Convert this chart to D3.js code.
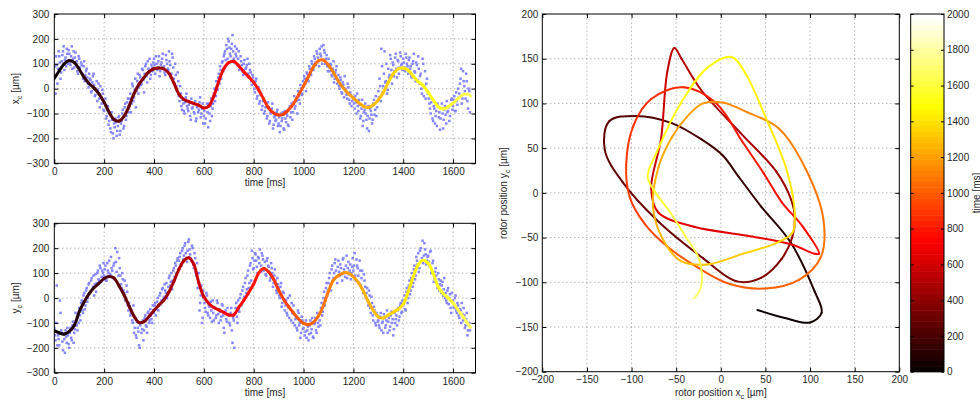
<!DOCTYPE html>
<html>
<head>
<meta charset="utf-8">
<script src="https://cdn.jsdelivr.net/npm/d3@7"></script>
<style>
body { margin: 0; background: #fff; }
svg text { font-family: "Liberation Sans", Arial, Helvetica, sans-serif; font-size: 10px; fill: #262626; }
</style>
</head>
<body>
<svg width="980" height="402"></svg>
<script>
const svg = d3.select('svg');

// sample spacing of the two series (ms)
const smoothStep = 20;
const scatterStep = 5;
const smoothTime = d3.range(0, 1661, smoothStep).concat([1670]);

// filtered rotor position
const xSmooth = [41, 72, 100, 113, 105, 78, 45, 20, 2, -22,
    -55, -95, -125, -130, -110, -70, -20, 18, 45, 68,
    80, 83, 79, 62, 22, -22, -44, -52, -60, -67,
    -78, -70, -30, 30, 80, 105, 110, 92, 68, 48,
    25, -5, -42, -78, -98, -106, -102, -85, -60, -25,
    10, 50, 88, 112, 115, 95, 65, 30, 2, -20,
    -38, -55, -70, -76, -66, -45, -15, 25, 60, 80,
    83, 74, 50, 28, 12, -15, -45, -72, -82, -73,
    -58, -40, -24, -22, -30];
const ySmooth = [-131, -140, -145, -134, -110, -55, -15, 18, 42, 60,
    78, 86, 80, 48, 12, -32, -73, -99, -95, -74,
    -50, -28, -8, 24, 67, 115, 150, 162, 135, 60,
    5, -22, -38, -48, -58, -68, -68, -38, -10, 22,
    56, 100, 118, 105, 75, 32, -5, -35, -60, -84,
    -102, -107, -97, -72, -30, 27, 72, 90, 101, 100,
    85, 62, 28, -15, -50, -76, -80, -68, -57, -45,
    -25, 25, 85, 133, 152, 140, 100, 45, 18, 0,
    -20, -48, -75, -105, -118];

// raw measurements: set A at t = i*scatterStep, set B half a step later
const xScatterA = [55, -20, 95, 80, 130, 40, 110, 150, 75, 125, 160, 100, 140, 95, 170, 120, 85, 145, 110, 60,
    120, 70, 95, 40, 110, 55, 80, 20, 60, 35, -10, 50, 15, -25, 30, -5, -40, 10, -60, -20,
    -90, -40, -110, -70, -130, -160, -95, -180, -140, -120, -190, -150, -110, -170, -130, -85, -150, -60, -110, -40,
    -80, -20, -60, 10, -35, 40, -10, 60, 5, 45, 20, 75, -15, 90, 50, 110, 65, 40, 95, 70,
    120, 60, 100, 85, 130, 70, 105, 140, 90, 55, 115, 80, 150, 95, 60, 125, 40, 100, 10, 65,
    -30, 10, -70, -45, -90, -55, -20, -80, -65, -110, -40, -75, -95, -50, -120, -70, -85, -35, -100, -60,
    -110, -140, -75, -95, -60, -130, -40, -80, -20, -50, 30, -5, 60, 90, 40, 110, 130, 150, 175, 120,
    190, 140, 160, 215, 120, 170, 130, 95, 150, 80, 110, 70, 100, 60, 85, 120, 45, 75, 30, 55,
    20, -15, 40, -30, 5, -50, -20, -70, -40, -90, -60, -110, -75, -130, -95, -60, -145, -110, -125, -85,
    -140, -175, -100, -120, -160, -90, -135, -110, -150, -70, -95, -125, -55, -80, -40, -100, -30, -60, 0, -20,
    10, 40, -10, 60, 30, 80, 55, 100, 75, 120, 95, 140, 110, 160, 130, 100, 175, 145, 120, 90,
    120, 70, 95, 50, 110, 40, 75, 20, 55, 0, 35, -20, 15, 50, -10, -40, 5, -60, -25, -50,
    -40, -80, -55, -20, -90, -65, -110, -45, -130, -85, -100, -160, -70, -120, -90, -140, -60, -105, -30, -75,
    -10, 40, -50, 90, 10, 150, 30, -20, 80, 55, 120, 20, 95, 70, 140, 45, 110, 85, 130, 100,
    120, 85, 140, 100, 60, 125, 90, 45, 110, 70, 30, 95, 130, 20, 60, -20, 100, 10, -40, 40,
    -20, -60, -100, -40, -130, -80, -110, -150, -70, -95, -120, -60, -160, -85, -105, -50, -90, -130, -65, -40,
    -70, -30, -90, -50, 0, -20, 40, -60, 70, 10, -40, 30, -80, -10];
const xScatterB = [90, 130, 20, 150, 105, 65, 135, 170, 115, 90, 140, 155, 105, 130, 80, 150, 125, 100, 70, 130,
    85, 105, 60, 90, 30, 70, 45, 5, 40, -15, 25, 60, -30, 0, -50, 20, -75, -35, -5, -85,
    -60, -120, -85, -145, -100, -175, -125, -200, -155, -135, -170, -115, -185, -140, -100, -160, -75, -125, -55, -95,
    -40, -95, 20, -50, -5, -75, 30, -20, 55, 15, 80, 35, 60, 100, 25, 80, 120, 55, 85, 105,
    95, 130, 75, 110, 50, 95, 120, 85, 65, 135, 100, 75, 110, 45, 140, 85, 20, 55, -10, 30,
    -50, -20, -85, -60, -100, -35, -70, -90, -55, -125, -80, -60, -100, -130, -75, -95, -55, -115, -80, -140,
    -90, -120, -60, -155, -100, -70, -110, -60, 0, -30, 10, 45, 20, 75, 105, 70, 140, 115, 160, 200,
    165, 130, 180, 150, 105, 140, 160, 120, 75, 130, 95, 55, 115, 80, 95, 60, 100, 65, 15, 45,
    0, 30, -40, -5, -60, -25, -85, -50, -100, -75, -120, -55, -140, -100, -80, -160, -115, -130, -95, -150,
    -115, -150, -130, -95, -165, -120, -100, -145, -80, -115, -60, -95, -30, -70, -50, -10, -45, 15, -25, 30,
    50, 20, 65, 35, 90, 60, 110, 85, 130, 105, 150, 125, 90, 140, 170, 115, 155, 100, 135, 70,
    85, 100, 55, 80, 25, 65, 90, 35, 10, 45, -15, 25, -35, 0, -25, 20, -45, -15, -70, -35,
    -60, -30, -100, -70, -45, -120, -80, -150, -95, -60, -125, -110, -170, -80, -105, -125, -45, -85, -110, -50,
    -35, 10, 160, -15, 60, 25, 100, -5, 45, 135, 75, 105, 50, 125, 80, 115, 60, 145, 95, 75,
    105, 70, 125, 90, 115, 80, 50, 100, 140, 65, 105, 35, 80, 50, 0, 120, -30, 70, 20, -10,
    -40, -80, -55, -120, -70, -140, -90, -60, -115, -165, -80, -100, -125, -70, -140, -95, -75, -110, -45, -85,
    -45, -90, -15, -65, -35, 20, 80, -40, 30, -10, 60, -50, 0, -95];
const yScatterA = [-120, -170, 50, -150, -190, -60, -140, -210, -165, -130, -180, -150, -200, -120, -170, -95, -140, -60, -110, -80,
    -40, -90, -10, -60, 20, -30, 40, 0, 60, 25, 80, 45, 10, 95, 60, 110, 70, 120, 85, 100,
    90, 130, 70, 110, 150, 95, 120, 80, 140, 200, 105, 60, 160, 90, 40, 75, 20, -10, 50, -30,
    -20, -70, -50, -100, -140, -80, -160, -120, -190, -110, -140, -90, -130, -70, -115, -60, -100, -45, -85, -30,
    -60, -20, -45, 0, -30, 20, -10, 40, 5, 30, 60, 15, 80, 50, 100, 70, 120, 140, 100, 160,
    150, 180, 130, 200, 170, 220, 160, 190, 235, 175, 150, 200, 120, 160, 90, 40, 100, -20, 50, -80,
    0, -40, 20, -60, -30, -80, -50, -10, -90, -40, -70, -20, -100, -55, -75, -30, -120, -60, -85, -40,
    -70, -110, -40, -180, -90, -60, -20, -100, -50, 0, -30, 30, -10, 60, 20, 90, 40, 130, 70, 160,
    120, 180, 150, 100, 160, 195, 130, 170, 110, 145, 90, 160, 125, 70, 140, 100, 60, 115, 30, 80,
    40, 0, 60, -20, 20, -50, -10, -70, -40, 10, -90, -60, -30, -110, -80, -130, -60, -100, -140, -90,
    -120, -150, -90, -130, -170, -110, -140, -80, -160, -100, -130, -60, -115, -90, -40, -70, 0, -30, 40, 10,
    60, 100, 30, 130, 80, 140, 110, 60, 150, 90, 120, 70, 160, 100, 130, 80, 145, 110, 75, 125,
    110, 180, 70, 130, 90, 150, 50, 110, 20, 70, 0, 40, -30, 10, -60, -20, -90, -50, -110, -70,
    -90, -120, -60, -100, -140, -80, -110, -50, -95, -130, -70, -100, -150, -60, -85, -110, -40, -75, -20, -55,
    -30, 10, -50, 40, 0, 70, 30, 100, 60, 130, 90, 150, 180, 120, 200, 160, 140, 220, 175, 150,
    170, 130, 190, 110, 150, 80, 120, 60, 100, 30, 70, 50, 10, 80, 20, -20, 40, 0, -40, 20,
    -10, -40, 10, -60, -30, -80, -50, -20, -90, -70, -110, -60, -130, -100];
const yScatterB = [-150, -100, -190, -165, -10, -130, -175, -145, -220, -155, -120, -185, -140, -160, -110, -180, -125, -90, -130, -100,
    -70, -20, -50, 10, -45, 30, -15, 55, 20, 70, 35, 90, 55, 25, 100, 75, 130, 65, 110, 140,
    115, 70, 140, 100, 85, 165, 110, 130, 75, 145, 185, 90, 120, 55, 100, 30, 70, 0, 25, -50,
    -40, -60, -90, -30, -120, -150, -95, -135, -200, -100, -125, -170, -80, -110, -140, -55, -90, -70, -100, -50,
    -30, -70, -15, -50, 10, -25, 35, -5, 55, 20, 0, 45, 90, 65, 35, 110, 85, 130, 150, 115,
    165, 135, 190, 155, 210, 180, 145, 225, 195, 160, 210, 135, 180, 105, 140, 70, -50, 10, -100, 30,
    -20, -55, 10, -70, -35, -15, -95, -60, -40, -80, -10, -65, -45, -90, -25, -70, -140, -50, -95, -65,
    -100, -60, -130, -80, -200, -40, -75, -10, -55, 15, -25, 45, 5, 80, 35, 110, 60, 140, 190, 115,
    150, 175, 125, 165, 140, 105, 180, 155, 120, 95, 150, 130, 105, 80, 120, 45, 90, 70, 20, 55,
    10, 45, -35, 25, -5, -30, -60, 0, -80, -45, -20, -100, -65, -85, -120, -50, -110, -160, -75, -125,
    -100, -135, -160, -115, -145, -90, -125, -155, -105, -80, -140, -100, -65, -110, -20, -55, 25, -10, 60, 30,
    80, 50, 115, 70, 100, 155, 85, 125, 105, 135, 95, 155, 115, 85, 170, 120, 95, 135, 100, 160,
    130, 90, 155, 120, 60, 110, 80, 35, 95, 45, 20, -10, 30, -40, 5, -70, -35, -100, -60, -95,
    -110, -75, -130, -95, -65, -120, -90, -140, -80, -115, -55, -85, -125, -100, -70, -50, -90, -30, -60, -10,
    -15, -45, 25, -20, 50, 15, 80, 45, 115, 75, 165, 135, 105, 190, 145, 230, 170, 195, 135, 165,
    145, 185, 100, 140, 65, 105, 90, 40, 75, 55, 20, 65, 35, 0, -10, 30, -25, 15, -60, -15,
    -35, 0, -50, -20, -70, -45, -100, -65, -40, -120, -85, -150, -110, -130];

const timeTicks = [0, 200, 400, 600, 800, 1000, 1200, 1400, 1600];
const posTicks = [-300, -200, -100, 0, 100, 200, 300];
const rotorTicks = [-200, -150, -100, -50, 0, 50, 100, 150, 200];
const colorTicks = [0, 200, 400, 600, 800, 1000, 1200, 1400, 1600, 1800, 2000];

// MATLAB "hot" colormap, 64 entries, caxis [0 2000]
const hotMap = d3.range(64).map(i => {
    const k = i + 1, n = 24;
    const r = Math.min(1, k / n);
    const g = Math.min(1, Math.max(0, (k - n) / n));
    const b = Math.max(0, (k - 2 * n) / (64 - 2 * n));
    return d3.rgb(r * 255, g * 255, b * 255).formatHex();
});
const colorOf = t => hotMap[Math.max(0, Math.min(63, Math.floor(t / 2000 * 64)))];

const fontFamily = '"Liberation Sans", Arial, Helvetica, sans-serif';
const fmt = d3.format('d');

const styleAxis = g => {
    g.attr('font-family', fontFamily).attr('font-size', 10);
    g.select('.domain').remove();
    g.selectAll('line').attr('stroke', '#000');
    g.selectAll('text').attr('fill', '#262626');
};

const grid = (g, xs, ys, x, y) => {
    const [x0, x1] = x.range();
    const [y0, y1] = y.range();
    g.selectAll(null).data(xs).join('line')
        .attr('x1', d => x(d)).attr('x2', d => x(d))
        .attr('y1', y0).attr('y2', y1);
    g.selectAll(null).data(ys).join('line')
        .attr('x1', x0).attr('x2', x1)
        .attr('y1', d => y(d)).attr('y2', d => y(d));
    g.selectAll('line')
        .attr('stroke', '#777').attr('stroke-width', 0.8)
        .attr('stroke-dasharray', '1,3');
};

// one path per sample interval so each piece can take its own colour
const coloredLine = (g, pts, width) => {
    const segs = [];
    let last = null;
    const ctx = {
        moveTo(x, y) { last = [x, y]; },
        lineTo(x, y) { segs.push(`M${last}L${x},${y}`); last = [x, y]; },
        bezierCurveTo(a, b, c, d, x, y) {
            segs.push(`M${last}C${a},${b},${c},${d},${x},${y}`);
            last = [x, y];
        },
        closePath() {}
    };
    d3.line().x(d => d[0]).y(d => d[1])
        .curve(d3.curveCatmullRom.alpha(0.5))
        .context(ctx)(pts);
    g.selectAll(null).data(segs).join('path')
        .attr('d', d => d)
        .attr('fill', 'none')
        .attr('stroke-width', width)
        .attr('stroke-linecap', 'round')
        .attr('stroke', (d, i) => colorOf((pts[i][2] + pts[i + 1][2]) / 2));
};

const box = (g, x, y) => {
    const [x0, x1] = x.range();
    const [y0, y1] = y.range();
    g.append('rect')
        .attr('x', x0).attr('y', y1)
        .attr('width', x1 - x0).attr('height', y0 - y1)
        .attr('fill', 'none').attr('stroke', '#000').attr('stroke-width', 1);
};

const subLabel = (g, main, sub, rest) => {
    const t = g.append('text');
    t.append('tspan').text(main);
    t.append('tspan').attr('dy', 3).attr('font-size', 7.5).text(sub);
    t.append('tspan').attr('dy', -3).text(rest);
    return t;
};

const timePanel = (top, bottom, values, scatterA, scatterB, name, id) => {
    const x = d3.scaleLinear().domain([0, 1690]).range([54.3, 475.5]);
    const y = d3.scaleLinear().domain([-300, 300]).range([bottom, top]);
    const g = svg.append('g');

    svg.append('clipPath').attr('id', id)
        .append('rect')
        .attr('x', 54.3).attr('y', top)
        .attr('width', 475.5 - 54.3).attr('height', bottom - top);

    grid(g.append('g'), timeTicks.slice(1), posTicks.slice(1, -1), x, y);

    const dots = scatterA.map((v, i) => [i * scatterStep, v])
        .concat(scatterB.map((v, i) => [i * scatterStep + scatterStep / 2, v]));
    const plot = g.append('g').attr('clip-path', `url(#${id})`);
    plot.selectAll('rect.dot').data(dots).join('rect')
        .attr('class', 'dot')
        .attr('x', d => x(d[0]) - 1.25)
        .attr('y', d => y(d[1]) - 1.25)
        .attr('width', 2.5).attr('height', 2.5)
        .attr('fill', '#8585ff');

    coloredLine(plot, smoothTime.map((t, i) => [x(t), y(values[i]), t]), 3);

    g.append('g').attr('transform', `translate(0,${bottom})`)
        .call(d3.axisBottom(x).tickValues(timeTicks).tickFormat(fmt).tickSize(-4).tickPadding(5))
        .call(styleAxis);
    g.append('g').attr('transform', `translate(0,${top})`)
        .call(d3.axisTop(x).tickValues(timeTicks).tickSize(-4).tickFormat(''))
        .call(styleAxis);
    g.append('g').attr('transform', 'translate(54.3,0)')
        .call(d3.axisLeft(y).tickValues(posTicks).tickFormat(fmt).tickSize(-4).tickPadding(5))
        .call(styleAxis);
    g.append('g').attr('transform', 'translate(475.5,0)')
        .call(d3.axisRight(y).tickValues(posTicks).tickSize(-4).tickFormat(''))
        .call(styleAxis);
    box(g, x, y);

    g.append('text')
        .attr('x', 265).attr('y', bottom + 23)
        .attr('text-anchor', 'middle')
        .text('time [ms]');
    subLabel(g, name, 'c', ' [µm]')
        .attr('text-anchor', 'middle')
        .attr('transform', `translate(19,${(top + bottom) / 2}) rotate(-90)`);
};

timePanel(14, 163.3, xSmooth, xScatterA, xScatterB, 'x', 'clipX');
timePanel(223.3, 372.7, ySmooth, yScatterA, yScatterB, 'y', 'clipY');

// trajectory in the x/y plane
const px = d3.scaleLinear().domain([-200, 200]).range([542.3, 899.3]);
const py = d3.scaleLinear().domain([-200, 200]).range([371.7, 14]);
const traj = svg.append('g');
grid(traj.append('g'), rotorTicks.slice(1, -1), rotorTicks.slice(1, -1), px, py);
coloredLine(traj.append('g'), smoothTime.map((t, i) => [px(xSmooth[i]), py(ySmooth[i]), t]), 2);

traj.append('g').attr('transform', 'translate(0,371.7)')
    .call(d3.axisBottom(px).tickValues(rotorTicks).tickFormat(fmt).tickSize(-4).tickPadding(4))
    .call(styleAxis);
traj.append('g').attr('transform', 'translate(0,14)')
    .call(d3.axisTop(px).tickValues(rotorTicks).tickSize(-4).tickFormat(''))
    .call(styleAxis);
traj.append('g').attr('transform', 'translate(542.3,0)')
    .call(d3.axisLeft(py).tickValues(rotorTicks).tickFormat(fmt).tickSize(-4).tickPadding(4))
    .call(styleAxis);
traj.append('g').attr('transform', 'translate(899.3,0)')
    .call(d3.axisRight(py).tickValues(rotorTicks).tickSize(-4).tickFormat(''))
    .call(styleAxis);
box(traj, px, py);

subLabel(traj, 'rotor position x', 'c', ' [µm]')
    .attr('x', 720.8).attr('y', 396)
    .attr('text-anchor', 'middle');
subLabel(traj, 'rotor position y', 'c', ' [µm]')
    .attr('text-anchor', 'middle')
    .attr('transform', 'translate(507,193) rotate(-90)');

// colour bar
const cx = d3.scaleLinear().domain([0, 1]).range([910.7, 944]);
const cy = d3.scaleLinear().domain([0, 2000]).range([371.7, 14]);
const bar = svg.append('g');
bar.selectAll('rect.band').data(hotMap).join('rect')
    .attr('class', 'band')
    .attr('x', cx(0))
    .attr('width', cx(1) - cx(0))
    .attr('y', (d, i) => cy((i + 1) * 2000 / 64))
    .attr('height', (d, i) => cy(i * 2000 / 64) - cy((i + 1) * 2000 / 64) + 0.5)
    .attr('fill', d => d);
bar.append('g').attr('transform', `translate(${cx(1)},0)`)
    .call(d3.axisRight(cy).tickValues(colorTicks).tickFormat(fmt).tickSize(-3).tickPadding(3))
    .call(styleAxis);
bar.append('g').attr('transform', `translate(${cx(0)},0)`)
    .call(d3.axisLeft(cy).tickValues(colorTicks).tickSize(-3).tickFormat(''))
    .call(styleAxis);
box(bar, cx, cy);
bar.append('text')
    .attr('text-anchor', 'middle')
    .attr('font-size', 9.5)
    .attr('transform', 'translate(979.5,193) rotate(-90)')
    .text('time [ms]');
</script>
</body>
</html>
